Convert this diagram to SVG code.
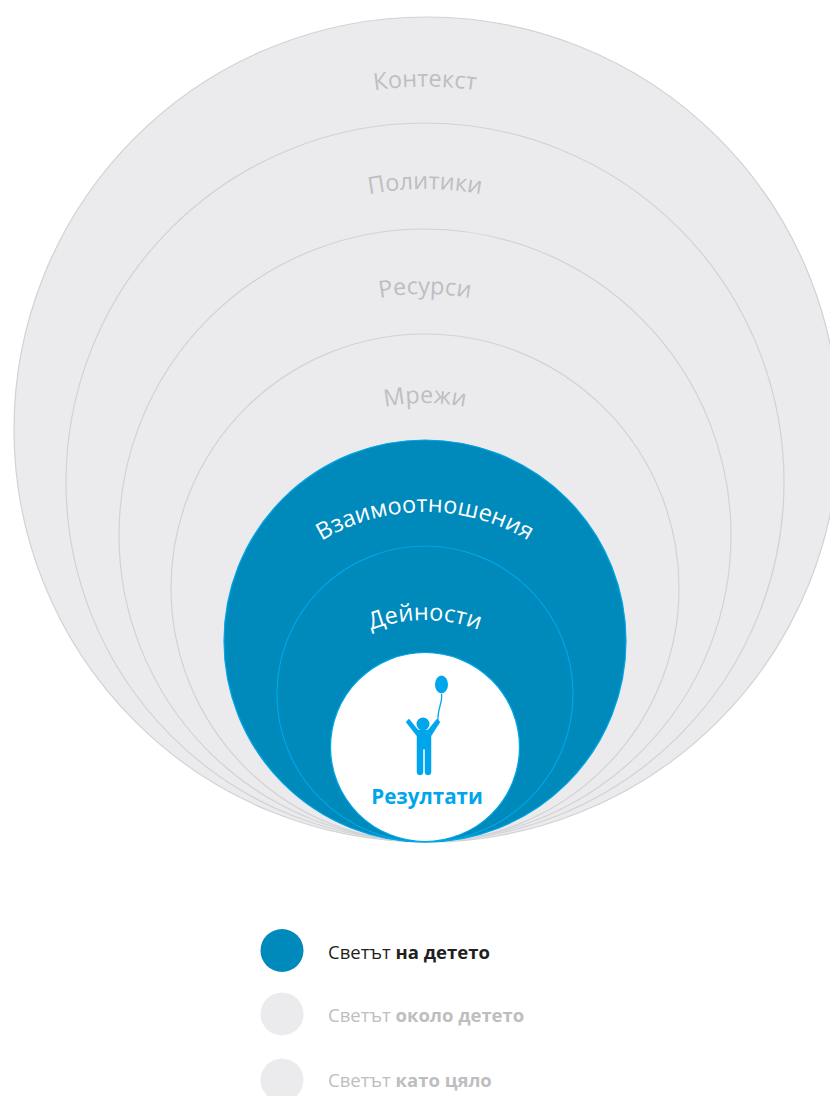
<svg xmlns="http://www.w3.org/2000/svg" width="830" height="1096" viewBox="0 0 830 1096">
<style>
.g{fill:#ebebed;stroke:#d1d2d4;stroke-width:1.2}
.b{fill:#0089bb;stroke:#00a6e6;stroke-width:1.2}
text{font-family:"Open Sans","Noto Sans","Liberation Sans",sans-serif}
.lg{font-size:23.500px;fill:#bdbec0;text-anchor:middle}
.lw{font-size:23.500px;fill:#fff;text-anchor:middle}
.leg{font-size:18.500px}
.leg tspan{font-weight:700}
</style>
<defs>
<path id="p1" d="M75 436.500 A350 350 0 0 1 775 436.500"/>
<path id="p2" d="M125 489 A300 300 0 0 1 725 489"/>
<path id="p3" d="M175 544 A250 250 0 0 1 675 544"/>
<path id="p4" d="M225 603 A200 200 0 0 1 625 603"/>
<path id="p5" d="M225 712 A200 200 0 0 1 625 712"/>
<path id="p6" d="M275 770 A150 150 0 0 1 575 770"/>
</defs>
<g id="n-kontekst"><circle class="g" cx="426.500" cy="429.500" r="412.500"/><text class="lg"><textPath href="#p1" startOffset="50%">Контекст</textPath></text></g>
<g id="n-politiki"><circle class="g" cx="425" cy="482" r="359"/><text class="lg"><textPath href="#p2" startOffset="50%">Политики</textPath></text></g>
<g id="n-resursi"><circle class="g" cx="425" cy="535" r="306"/><text class="lg"><textPath href="#p3" startOffset="50%">Ресурси</textPath></text></g>
<g id="n-mrezhi"><circle class="g" cx="425" cy="588" r="254"/><text class="lg"><textPath href="#p4" startOffset="50%">Мрежи</textPath></text></g>
<g id="n-vzaimo"><circle class="b" cx="425" cy="641" r="201"/><text class="lw"><textPath href="#p5" startOffset="50%">Взаимоотношения</textPath></text></g>
<g id="n-deynosti"><circle class="b" cx="425" cy="694" r="148"/><text class="lw"><textPath href="#p6" startOffset="50%">Дейности</textPath></text></g>
<g id="n-rezultati"><circle cx="425" cy="747" r="94.500" fill="#fff" stroke="#00a6e6" stroke-width="1.200"/>
<ellipse cx="441.500" cy="684.500" rx="6.500" ry="9" fill="#00a6ec"/>
<path d="M441.500 694 C443 703 437 708 438 722" fill="none" stroke="#00a6ec" stroke-width="1.300"/>
<circle cx="423" cy="724" r="6.500" fill="#00a6ec"/>
<path d="M406 722 L409 719 L418 730 H428 L437 719 L440 722 L431 736 V772 Q431 775 428 775 Q425 775 425 772 V749 H423 V772 Q423 775 420 775 Q417 775 417 772 V736 Z" fill="#00a6ec" stroke="#00a6ec" stroke-width="0.500" stroke-linejoin="round"/>
<text x="427" y="804" font-size="20.600" font-weight="700" fill="#00a6ec" text-anchor="middle">Резултати</text></g>
<g id="legend-1"><circle cx="282" cy="950.500" r="21.500" fill="#0089bb"/><text class="leg" x="328" y="959" fill="#231f20">Светът <tspan>на детето</tspan></text></g>
<g id="legend-2"><circle cx="282" cy="1014" r="21.500" fill="#ebebed"/><text class="leg" x="328" y="1022" fill="#bdbec0">Светът <tspan>около детето</tspan></text></g>
<g id="legend-3"><circle cx="282" cy="1080" r="21.500" fill="#ebebed"/><text class="leg" x="328" y="1087" fill="#bdbec0">Светът <tspan>като цяло</tspan></text></g>
<g id="connectors"/>
</svg>
